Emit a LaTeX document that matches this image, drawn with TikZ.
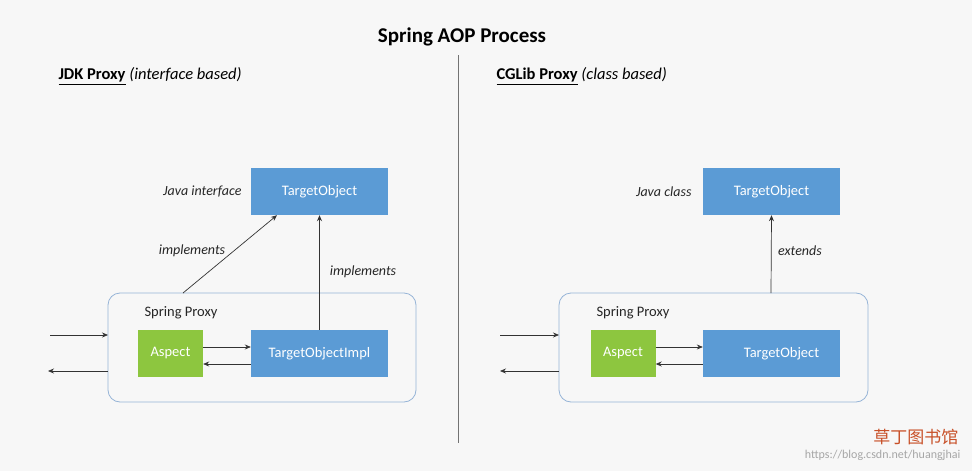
\documentclass[tikz,border=0pt]{standalone}
\usepackage{fontspec}
\setmainfont{Carlito}
\newfontfamily\cjk{Noto Sans CJK SC}
\usetikzlibrary{arrows.meta}
\begin{document}
\begin{tikzpicture}[x=1pt,y=-1pt,
  box/.style={draw=none,minimum width=137pt,minimum height=47pt,text=white,font=\fontsize{14.5}{16}\selectfont},
  bl/.style={fill={rgb,255:red,91;green,155;blue,213}},
  asp/.style={draw=none,fill={rgb,255:red,141;green,198;blue,63},minimum width=65pt,minimum height=47pt,text=white,font=\fontsize{14.5}{16}\selectfont},
  prox/.style={draw={rgb,255:red,150;green,180;blue,215},rounded corners=12pt,line width=0.8pt},
  ar/.style={-{Stealth[length=6pt,width=5pt]},line width=0.7pt,draw=black!80},
  lab/.style={font=\itshape\fontsize{14}{16}\selectfont,text=black!85},
  txt/.style={font=\fontsize{14.5}{16}\selectfont,text=black!85}]
\fill[black!3] (0,0) rectangle (972,471);
\node[font=\bfseries\fontsize{21}{24}\selectfont] (title) at (462,37) {Spring AOP Process};
\draw[black!55,line width=0.8pt] (458,55) -- (458,443);
\node[anchor=west,font=\fontsize{16.5}{19}\selectfont] (h1) at (55,76) {\textbf{\underline{JDK Proxy}} \textit{(interface based)}};
\node[anchor=west,font=\fontsize{16.5}{19}\selectfont] (h2) at (493,76) {\textbf{\underline{CGLib Proxy}} \textit{(class based)}};
% left
\node[box,bl] (t1) at (319.5,191.5) {TargetObject};
\node[lab,anchor=east] (ji) at (245,192) {Java interface};
\draw[prox] (108,293) rectangle (416,402);
\coordinate (p1) at (183,293);
\node[txt] (sp1) at (181,313) {Spring Proxy};
\node[asp] (a1) at (170.5,353.5) {Aspect};
\node[box,bl] (i1) at (319.5,353.5) {TargetObjectImpl};
\draw[ar] (p1) -- (t1.south west -| 277,0) coordinate (q1) ;
\draw[ar] (i1.north) -- (t1.south);
\node[lab] (im1) at (192,251) {implements};
\node[lab] (im2) at (363,272) {implements};
\draw[ar] (a1.east |- 0,347) -- (i1.west |- 0,347);
\draw[ar] (i1.west |- 0,364) -- (a1.east |- 0,364);
\coordinate (l1) at (50,335); \coordinate (l2) at (48,371);
\draw[ar] (l1) -- (108,335);
\draw[ar] (108,371) -- (l2);
% right
\node[box,bl] (t2) at (771.5,191.5) {TargetObject};
\node[lab,anchor=east] (jc) at (695,192) {Java class};
\draw[prox] (559,293) rectangle (868,402);
\node[txt] (sp2) at (633,313) {Spring Proxy};
\node[asp] (a2) at (623,353.5) {Aspect};
\node[box,bl] (i2) at (771.5,353.5) {\hspace*{20pt}TargetObject};
\coordinate (p2) at (771,293);
\draw[ar] (p2) -- (t2.south);
\node[lab] (ex) at (800,251) {extends};
\draw[ar] (a2.east |- 0,347) -- (i2.west |- 0,347);
\draw[ar] (i2.west |- 0,364) -- (a2.east |- 0,364);
\coordinate (r1) at (500,335); \coordinate (r2) at (500,371);
\draw[ar] (r1) -- (559,335);
\draw[ar] (559,371) -- (r2);
% watermark
\node[anchor=east,text={rgb,255:red,200;green,80;blue,40},font=\cjk\fontsize{17}{19}\selectfont] (wm1) at (962,437) {草丁图书馆};
\node[anchor=east,text=black!35,font=\fontsize{12}{14}\selectfont] (wm2) at (964,455) {https://blog.csdn.net/huangjhai};
\end{tikzpicture}
\end{document}
